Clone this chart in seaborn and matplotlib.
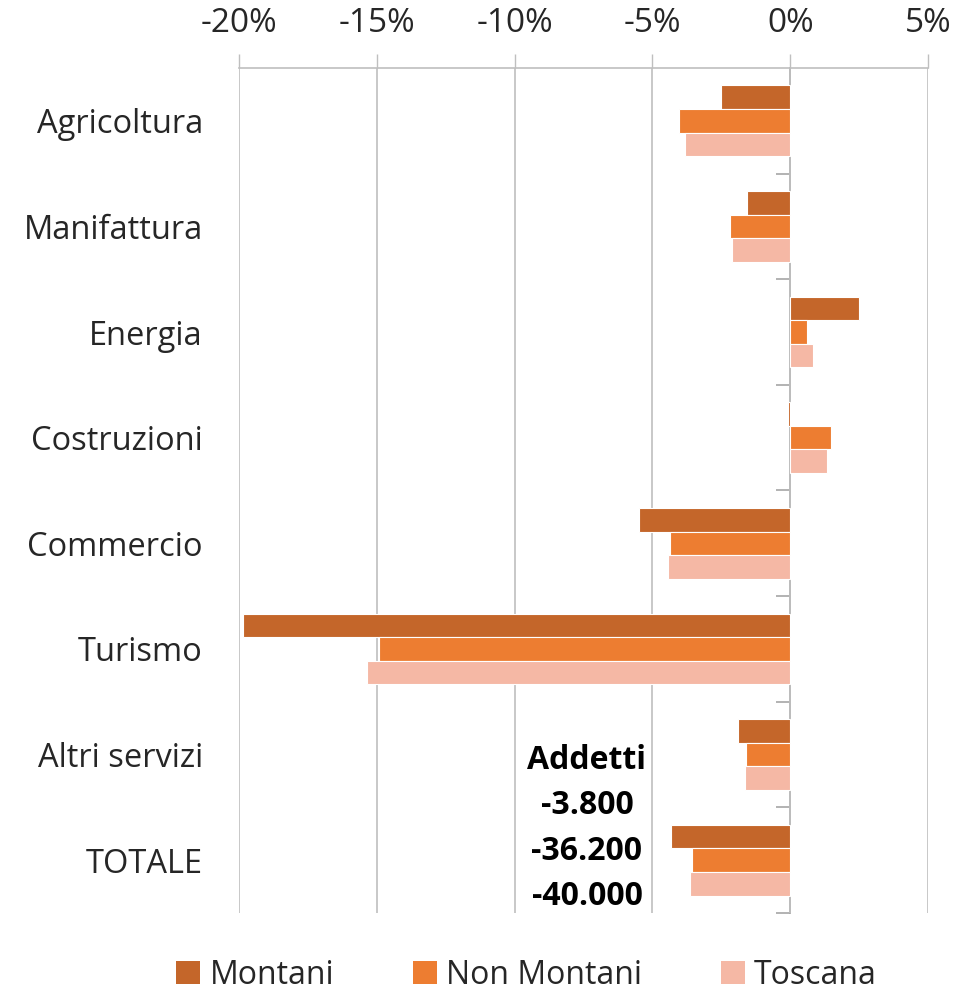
import matplotlib
matplotlib.use("Agg")
import matplotlib.pyplot as plt
import seaborn as sns
import pandas as pd
from matplotlib.ticker import FuncFormatter, FixedLocator
from matplotlib.patches import Patch

categories = ["Agricoltura", "Manifattura", "Energia", "Costruzioni",
              "Commercio", "Turismo", "Altri servizi", "TOTALE"]
series = ["Montani", "Non Montani", "Toscana"]
montani = [-2.5, -1.56, 2.5, -0.07, -5.48, -19.85, -1.89, -4.32]
non_montani = [-4.03, -2.18, 0.62, 1.49, -4.36, -14.92, -1.6, -3.56]
toscana = [-3.81, -2.1, 0.83, 1.34, -4.43, -15.35, -1.63, -3.63]
colors = ["#C4662A", "#ED7D31", "#F5B8A5"]
xticks = [-20, -15, -10, -5, 0, 5]
note = "Addetti\n-3.800\n-36.200\n-40.000"

rows = []
for s, vals in zip(series, [montani, non_montani, toscana]):
    for c, v in zip(categories, vals):
        rows.append({"cat": c, "series": s, "val": v})
df = pd.DataFrame(rows)

sns.set_theme(style="white")
plt.rcParams["font.family"] = ["Open Sans", "DejaVu Sans"]

fig = plt.figure(figsize=(9.7, 9.92), dpi=100)
ax = fig.add_axes([0.2464, 0.0796, 0.7103, 0.8519])

sns.barplot(data=df, y="cat", x="val", hue="series", order=categories,
            hue_order=series, palette=colors, orient="h", width=0.67,
            saturation=1, edgecolor="white", linewidth=0.8, ax=ax,
            legend=False, errorbar=None)

ax.set_xlim(-20, 5)
ax.set_ylim(len(categories) - 0.5, -0.5)
ax.set_xlabel("")
ax.set_ylabel("")

# x axis on top
ax.xaxis.tick_top()
ax.xaxis.set_major_locator(FixedLocator(xticks))
ax.xaxis.set_major_formatter(FuncFormatter(lambda v, p: f"{v:.0f}%"))
ax.tick_params(axis="x", which="major", length=10, width=1.0, color="#BFBFBF",
               labelsize=24, pad=10, top=True, bottom=False)
ax.grid(axis="x", color="#BFBFBF", linewidth=1.2)
ax.grid(axis="y", visible=False)
ax.set_axisbelow(True)

for side in ["left", "right", "bottom"]:
    ax.spines[side].set_visible(False)
ax.spines["top"].set_color("#BFBFBF")
ax.spines["top"].set_linewidth(1.2)

# category labels
ax.tick_params(axis="y", which="major", length=0, labelsize=23.5, pad=26)

# zero axis line with category boundary ticks
sec = ax.secondary_yaxis((0 - (-20)) / 25)
sec.set_ylim(ax.get_ylim())
for sp in ["left", "right"]:
    sec.spines[sp].set_color("#A6A6A6")
    sec.spines[sp].set_linewidth(1.3)
sec.yaxis.set_major_locator(FixedLocator([i + 0.5 for i in range(0, len(categories))]))
sec.tick_params(axis="y", length=10, width=1.2, color="#A6A6A6", direction="in",
                labelleft=False, labelright=False)

ax.text(0.505, 0.1, note, transform=ax.transAxes, ha="center", va="center",
        fontsize=23, fontweight="bold", linespacing=1.5, color="black")

handles = [Patch(facecolor=c, edgecolor="none") for c in colors]
fig.legend(handles, series, loc="center", bbox_to_anchor=(0.543, 0.017), ncol=3,
           frameon=False, fontsize=23, handlelength=0.75, handleheight=0.75,
           handletextpad=0.3, columnspacing=2.45)

fig.savefig("out.png", dpi=100)
